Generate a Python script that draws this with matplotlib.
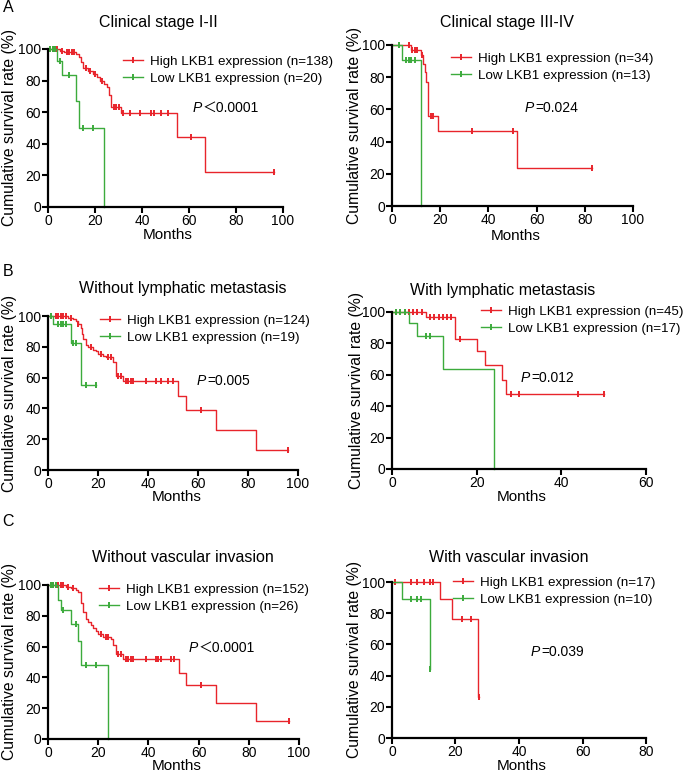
import numpy as np
import matplotlib.pyplot as plt
from matplotlib.lines import Line2D

plt.rcParams['font.family'] = ['Liberation Sans', 'Noto Sans CJK SC', 'DejaVu Sans']

RED = '#e8242b'
GREEN = '#3cab3c'
W, H = 685, 773

# ---- data: event times, survival after each event (%), censor times ----
# A left: clinical stage I-II
a1_hi_t = [5, 7, 12, 13, 14, 15, 17, 19, 21, 22, 24, 25, 26, 27, 31, 55, 67]
a1_hi_s = [99, 98, 97, 95, 92, 88, 86, 84, 82, 80, 78, 76, 71, 63, 59.5, 44.5, 22.3]
a1_hi_c = [1, 2, 3, 4, 6, 8, 9, 10, 11, 16, 18, 20, 23, 28, 29, 30, 32, 35, 39, 44, 45, 48, 51, 61, 96]
a1_lo_t = [4, 6, 12, 13, 24]
a1_lo_s = [92.6, 83.3, 66.8, 50.3, 0]
a1_lo_c = [1, 2, 3, 5, 9, 15, 19]

# A right: clinical stage III-IV
a2_hi_t = [8, 12, 13, 13.5, 14, 15, 19, 52]
a2_hi_s = [97, 93.5, 88.5, 83.5, 77, 55.7, 46.6, 23.4]
a2_hi_c = [7, 8.5, 9.5, 10.5, 12.5, 16, 17, 33, 50, 83]
a2_lo_t = [4, 12]
a2_lo_s = [90.5, 0]
a2_lo_c = [3, 6, 7, 8, 9.5]

# B left: without lymphatic metastasis
b1_hi_t = [8, 10, 11, 12, 13, 13.5, 14, 15, 16, 18, 19, 20, 22, 23, 26, 27, 30, 52, 55, 67, 83]
b1_hi_s = [99, 98, 97, 95, 92, 88, 85, 81, 80, 78, 77, 75.4, 74, 73.4, 70, 61, 58, 48, 38.7, 25.7, 13]
b1_hi_c = [3, 4, 5, 6, 7, 9, 12, 17, 21, 24, 25, 28, 29, 31, 32, 33, 34, 39, 43, 45, 48, 50, 61, 96]
b1_lo_t = [2, 9, 13]
b1_lo_s = [94.6, 82.7, 55.3]
b1_lo_c = [1, 4, 5, 6, 7, 10, 11, 15, 19]

# B right: with lymphatic metastasis
b2_hi_t = [8, 15, 20, 22, 26, 27]
b2_hi_s = [96.5, 83, 75, 66, 57, 47.5]
b2_hi_c = [1, 2, 3, 4, 5, 6, 7, 9, 10, 11, 12, 13, 14, 16, 28, 30, 44, 50]
b2_lo_t = [4, 6, 12, 24]
b2_lo_s = [93, 85, 63.8, 0]
b2_lo_c = [1, 2, 3, 8, 9]

# C left: without vascular invasion
c1_hi_t = [7, 9, 11, 12, 13, 13.3, 14, 15, 16, 17, 18, 19, 20, 22, 25, 26, 27, 30, 52, 55, 67, 83]
c1_hi_s = [99, 98, 97, 95.5, 92, 88, 82.5, 78, 76, 74, 72, 70, 68, 66.2, 65, 61.3, 55, 52, 43.1, 35, 23.4, 11.9]
c1_hi_c = [1, 2, 3, 4, 5, 6, 8, 10, 21, 23, 24, 28, 29, 31, 32, 33, 34, 39, 43, 44, 45, 49, 50, 61, 96]
c1_lo_t = [4, 5, 9, 12, 13, 24]
c1_lo_s = [90.5, 84, 74.5, 63.6, 48, 0]
c1_lo_c = [1, 2, 3, 6, 11, 15, 19]

# C right: with vascular invasion
c2_hi_t = [15, 19, 27]
c2_hi_s = [89.4, 76.6, 26.2]
c2_hi_c = [1, 6, 8, 10, 12, 13, 22, 25, 27.5]
c2_lo_t = [3, 12]
c2_lo_s = [89.4, 44.5]
c2_lo_c = [6, 8, 9, 12]

titles = ['Clinical stage I-II', 'Clinical stage III-IV',
          'Without lymphatic metastasis', 'With lymphatic metastasis',
          'Without vascular invasion', 'With vascular invasion']
n_hi = [138, 34, 124, 45, 152, 17]
n_lo = [20, 13, 19, 17, 26, 10]
p_text = ['\uff1c0.0001', '=0.024', '=0.005', '=0.012', '\uff1c0.0001', '=0.039']
x_max = [100, 100, 100, 60, 100, 80]

curves = [
    (a1_hi_t, a1_hi_s, a1_hi_c, a1_lo_t, a1_lo_s, a1_lo_c),
    (a2_hi_t, a2_hi_s, a2_hi_c, a2_lo_t, a2_lo_s, a2_lo_c),
    (b1_hi_t, b1_hi_s, b1_hi_c, b1_lo_t, b1_lo_s, b1_lo_c),
    (b2_hi_t, b2_hi_s, b2_hi_c, b2_lo_t, b2_lo_s, b2_lo_c),
    (c1_hi_t, c1_hi_s, c1_hi_c, c1_lo_t, c1_lo_s, c1_lo_c),
    (c2_hi_t, c2_hi_s, c2_hi_c, c2_lo_t, c2_lo_s, c2_lo_c),
]

# layout in pixels: axes box (x0, top, x1, bottom), title centre, legend anchor,
# P position, Months centre, y label x
boxes = [(48, 49, 283, 207), (392, 45, 633, 206), (48, 316, 298, 470),
         (392, 312, 646, 469), (48, 585, 299, 739), (392, 582, 646, 738)]
title_xy = [(158, 23), (507, 23), (183, 289), (503, 290), (183, 557), (509, 557)]
leg_xy = [(123, 70), (451, 67), (100, 329), (481, 320), (99, 598), (453, 591)]
p_xy = [(193, 108), (525, 108), (197, 381), (521, 378), (189, 648), (531, 652)]
months_xy = [(168, 235), (516, 236), (177, 497), (522, 497), (177, 766), (522, 766)]
ylab_x = [10, 354, 10, 356, 10, 355]
letters = [('A', 8, 8), ('B', 8, 271), ('C', 8, 521)]


def fx(x):
    return x / W


def fy(y):
    return 1 - y / H


def km(ax, t, s, cens, color):
    t = np.asarray(t, float)
    s = np.asarray(s, float)
    x = np.r_[0, t]
    y = np.r_[100, s]
    if max(cens) > t[-1]:
        x = np.r_[x, max(cens)]
        y = np.r_[y, s[-1]]
    ax.plot(x, y, drawstyle='steps-post', color=color, lw=1, clip_on=False)
    idx = np.searchsorted(t, cens, side='right')
    yc = np.r_[100, s][idx]
    ax.plot(cens, yc, ls='none', marker='|', ms=5, mew=1.4, color=color, clip_on=False)


fig = plt.figure(figsize=(W / 100, H / 100), dpi=100)

for i in range(6):
    x0, top, x1, bot = boxes[i]
    ax = fig.add_axes([fx(x0), fy(bot), (x1 - x0) / W, (bot - top) / H])
    hi_t, hi_s, hi_c, lo_t, lo_s, lo_c = curves[i]
    km(ax, hi_t, hi_s, hi_c, RED)
    km(ax, lo_t, lo_s, lo_c, GREEN)

    ax.set_xlim(0, x_max[i])
    ax.set_ylim(0, 100)
    ax.set_xticks(np.arange(0, x_max[i] + 1, 20))
    ax.set_yticks(np.arange(0, 101, 20))
    for side in ['top', 'right']:
        ax.spines[side].set_visible(False)
    for side in ['left', 'bottom']:
        ax.spines[side].set_linewidth(1.6)
    ax.tick_params(length=4, width=1.5, labelsize=10, pad=1)

    fig.text(fx(title_xy[i][0]), fy(title_xy[i][1]), titles[i],
             ha='center', va='center', fontsize=11.5)
    fig.text(fx(months_xy[i][0]), fy(months_xy[i][1]), 'Months',
             ha='center', va='center', fontsize=11)
    fig.text(fx(ylab_x[i]), fy((top + bot) / 2), 'Cumulative survival rate (%)',
             ha='center', va='center', rotation=90, fontsize=11.3)

    handles = [Line2D([], [], color=RED, lw=1, marker='|', ms=5, mew=1.4),
               Line2D([], [], color=GREEN, lw=1, marker='|', ms=5, mew=1.4)]
    labels = ['High LKB1 expression (n=%d)' % n_hi[i],
              'Low LKB1 expression (n=%d)' % n_lo[i]]
    fig.legend(handles, labels, loc='center left',
               bbox_to_anchor=(fx(leg_xy[i][0]), fy(leg_xy[i][1])),
               frameon=False, fontsize=9.6, borderpad=0, borderaxespad=0,
               handlelength=1.5, handletextpad=0.5, labelspacing=0.35,
               numpoints=1)

    px, py = p_xy[i]
    fig.text(fx(px), fy(py), 'P', style='italic', ha='left', va='center', fontsize=10)
    fig.text(fx(px + 10), fy(py), p_text[i], ha='left', va='center', fontsize=10)

for lab, lx, ly in letters:
    fig.text(fx(lx), fy(ly), lab, ha='center', va='center', fontsize=11.5)

fig.savefig('out.png', dpi=100)
